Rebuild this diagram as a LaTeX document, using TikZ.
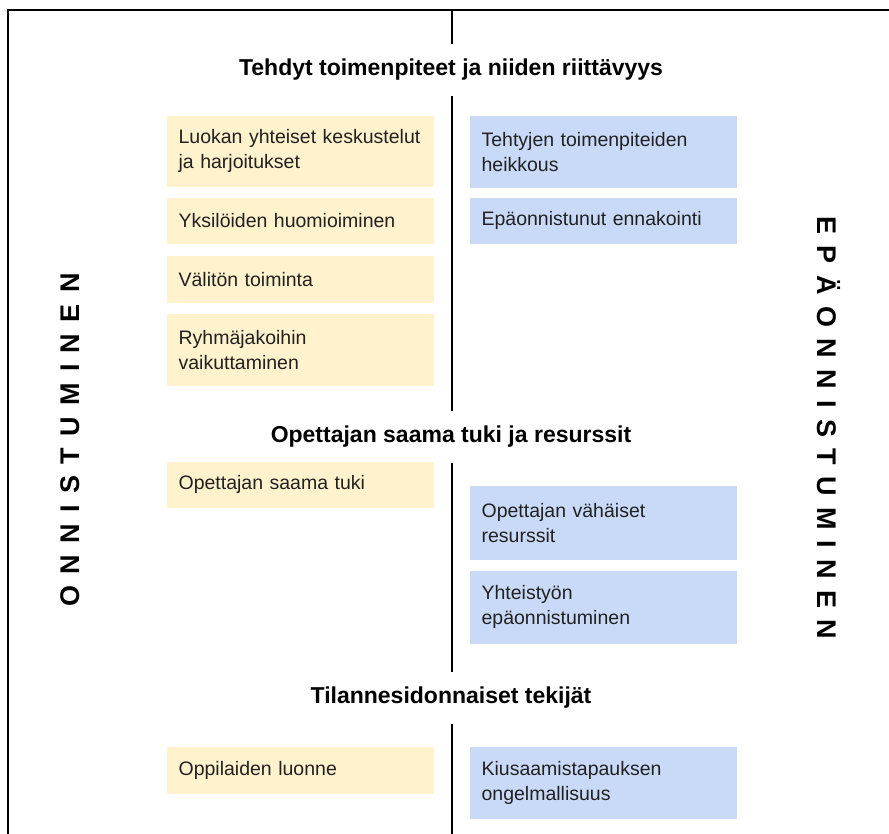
\documentclass[tikz,border=0pt]{standalone}
\usepackage{fontspec}
\setmainfont{Liberation Sans}
\usepackage{tikz}
\definecolor{yellow100}{HTML}{FFF2CC}
\definecolor{blue100}{HTML}{C9DAF8}
\definecolor{gray900}{HTML}{212121}
\tikzstyle{laatikko}=[anchor=north west, inner xsep=12pt, inner ysep=0pt, minimum height=46pt, text width=243pt, align=left, text=gray900, font=\fontsize{19.5}{25}\selectfont]
\tikzstyle{onnistui}=[laatikko, fill=yellow100]
\tikzstyle{epaonnistui}=[laatikko, fill=blue100]
\tikzstyle{otsikko}=[inner sep=0pt, minimum height=50pt, font=\fontsize{23}{27}\selectfont\bfseries]
\tikzstyle{sivu}=[inner sep=0pt, font=\fontsize{27}{30}\selectfont\bfseries\addfontfeature{LetterSpace=42}]

\begin{document}
\begin{tikzpicture}[x=1pt, y=-1pt, line width=1.2pt]
	\useasboundingbox (0,0) rectangle (889,834);
	\coordinate (kulmaA) at (8,834);
	\coordinate (kulmaB) at (8,10);
	\coordinate (kulmaC) at (889,10);
	\coordinate (keskiA) at (452,10);
	\coordinate (keskiB) at (452,834);
	% otsikot
	\node[otsikko] (h1) at (451,70){Tehdyt toimenpiteet ja niiden riittävyys};
	\node[otsikko] (h2) at (451,437){Opettajan saama tuki ja resurssit};
	\node[otsikko] (h3) at (451,698){Tilannesidonnaiset tekijät};
	% onnistuminen
	\node[onnistui, minimum height=71pt] (o1) at (166,115){Luokan yhteiset keskustelut\\ja harjoitukset};
	\node[onnistui] (o2) at (166,197){Yksilöiden huomioiminen};
	\node[onnistui, minimum height=47pt] (o3) at (166,255){Välitön toiminta};
	\node[onnistui, minimum height=72pt] (o4) at (166,313){Ryhmäjakoihin\\vaikuttaminen};
	\node[onnistui] (o5) at (166,461){Opettajan saama tuki};
	\node[onnistui, minimum height=47pt] (o6) at (166,746){Oppilaiden luonne};
	% epäonnistuminen
	\node[epaonnistui, minimum height=72pt] (e1) at (469,115){Tehtyjen toimenpiteiden\\heikkous};
	\node[epaonnistui] (e2) at (469,197){Epäonnistunut ennakointi};
	\node[epaonnistui, minimum height=74pt] (e3) at (469,485){Opettajan vähäiset\\resurssit};
	\node[epaonnistui, minimum height=73pt] (e4) at (469,570){Yhteistyön\\epäonnistuminen};
	\node[epaonnistui, minimum height=72pt] (e5) at (469,746){Kiusaamistapauksen\\ongelmallisuus};
	\node[sivu, rotate=90] (vasen) at (70,440){ONNISTUMINEN};
	\node[sivu, rotate=-90] (oikea) at (829,428){EPÄONNISTUMINEN};
	\path[draw=black] (kulmaA) -- (kulmaB) -- (kulmaC);
	\path[draw=black] (keskiA) -- (h1.north -| keskiA) (h1.south -| keskiA) -- (h2.north -| keskiA) (h2.south -| keskiA) -- (h3.north -| keskiA) (h3.south -| keskiA) -- (keskiB);
\end{tikzpicture}
\end{document}
